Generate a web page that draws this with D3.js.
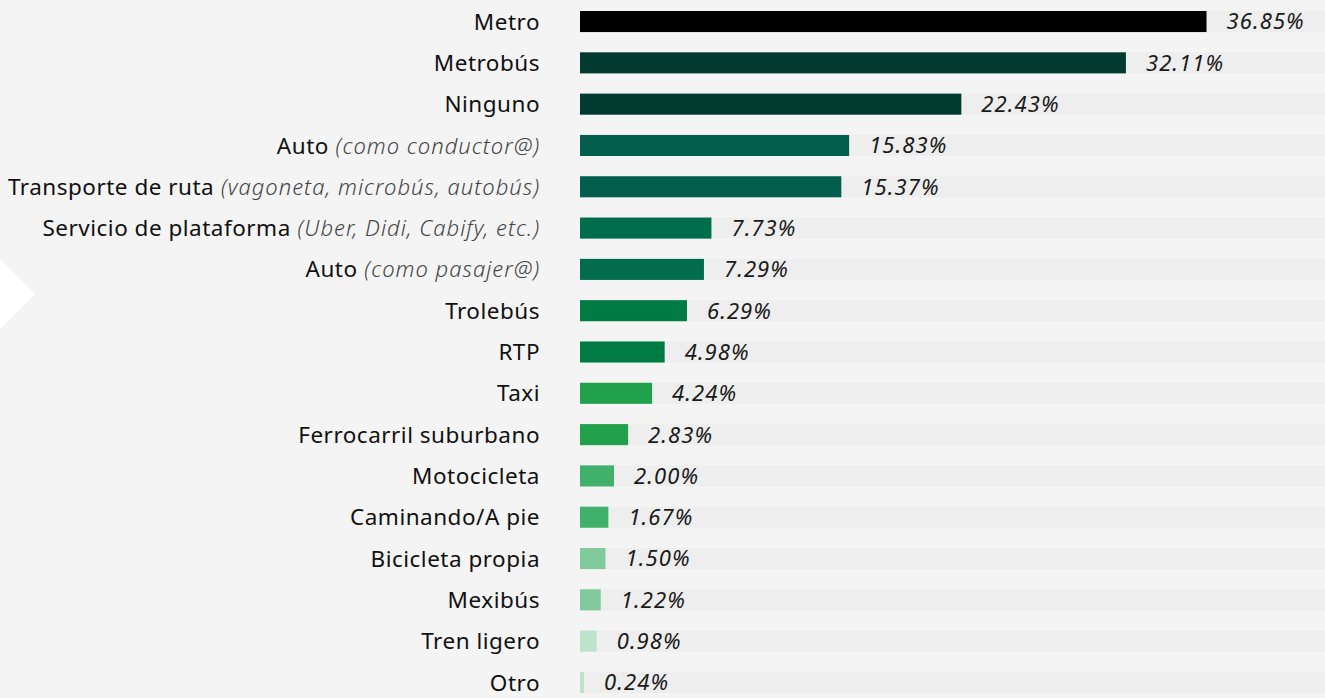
<!DOCTYPE html>
<html>
<head>
<meta charset="utf-8">
<script src="https://cdn.jsdelivr.net/npm/d3@7"></script>
<style>
    html, body { margin: 0; padding: 0; background: #f4f4f4; overflow: hidden; }
    text { font-family: "Noto Sans", Lato, sans-serif; }
</style>
</head>
<body>
<div id="vis"></div>
<script>
// data
var categories = ['Metro', 'Metrobús', 'Ninguno', 'Auto', 'Transporte de ruta',
    'Servicio de plataforma', 'Auto ', 'Trolebús', 'RTP', 'Taxi',
    'Ferrocarril suburbano', 'Motocicleta', 'Caminando/A pie', 'Bicicleta propia',
    'Mexibús', 'Tren ligero', 'Otro'];
var notes = ['', '', '', '(como conductor@)', '(vagoneta, microbús, autobús)',
    '(Uber, Didi, Cabify, etc.)', '(como pasajer@)', '', '', '',
    '', '', '', '', '', '', ''];
var values = [36.85, 32.11, 22.43, 15.83, 15.37, 7.73, 7.29, 6.29, 4.98, 4.24,
    2.83, 2.00, 1.67, 1.50, 1.22, 0.98, 0.24];
var colors = ['#000000', '#013a2f', '#013a2f', '#035e4d', '#035e4d',
    '#016d4a', '#016d4a', '#017b44', '#017b44', '#22a14d',
    '#22a14d', '#41b06b', '#41b06b', '#80ca9b', '#80ca9b', '#bde4cb', '#bde4cb'];

var width = 1325, height = 698;
var labelX = 540;
var barX = 580;

var svg = d3.select('#vis')
    .append('svg')
        .attr('width', width)
        .attr('height', height);

svg.append('rect')
    .attr('width', width)
    .attr('height', height)
    .attr('fill', '#f4f4f4');

// white arrow on the left edge
svg.append('path')
    .attr('d', 'M0,259 L35,294 L0,329 Z')
    .attr('fill', '#ffffff');

var y = d3.scaleBand()
    .domain(categories)
    .range([11, 693])
    .paddingInner(0.49)
    .paddingOuter(0);

var x = d3.scaleLinear()
    .domain([0, 43.82])
    .range([barX, width]);

var rows = svg.selectAll('.row')
    .data(categories)
    .enter()
    .append('g')
        .attr('class', 'row')
        .attr('transform', function(d) { return 'translate(0,' + y(d) + ')'; });

// background track
rows.append('rect')
    .attr('x', barX)
    .attr('width', width - barX)
    .attr('height', y.bandwidth())
    .attr('fill', '#eeeeee');

// bars
rows.append('rect')
    .attr('x', barX)
    .attr('width', function(d, i) { return x(values[i]) - barX; })
    .attr('height', y.bandwidth())
    .attr('fill', function(d, i) { return colors[i]; });

// category labels
var labels = rows.append('text')
    .attr('x', labelX)
    .attr('y', y.bandwidth() / 2)
    .attr('dy', '0.36em')
    .attr('text-anchor', 'end')
    .attr('font-size', 22.5)
    .attr('letter-spacing', 0.5)
    .attr('fill', '#111111');

labels.append('tspan')
    .text(function(d) { return d.trim(); });

labels.filter(function(d, i) { return notes[i] !== ''; })
    .append('tspan')
        .attr('font-style', 'italic')
        .attr('font-weight', 300)
        .attr('font-size', 22)
        .attr('letter-spacing', 1)
        .attr('fill', '#444444')
        .text(function(d) { return ' ' + notes[categories.indexOf(d)]; });

// value labels
rows.append('text')
    .attr('x', function(d, i) { return x(values[i]) + 20; })
    .attr('y', y.bandwidth() / 2)
    .attr('dy', '0.36em')
    .attr('font-size', 22)
    .attr('letter-spacing', 1.1)
    .attr('font-style', 'italic')
    .attr('fill', '#1a1a1a')
    .text(function(d, i) { return values[i].toFixed(2) + '%'; });
</script>
</body>
</html>
